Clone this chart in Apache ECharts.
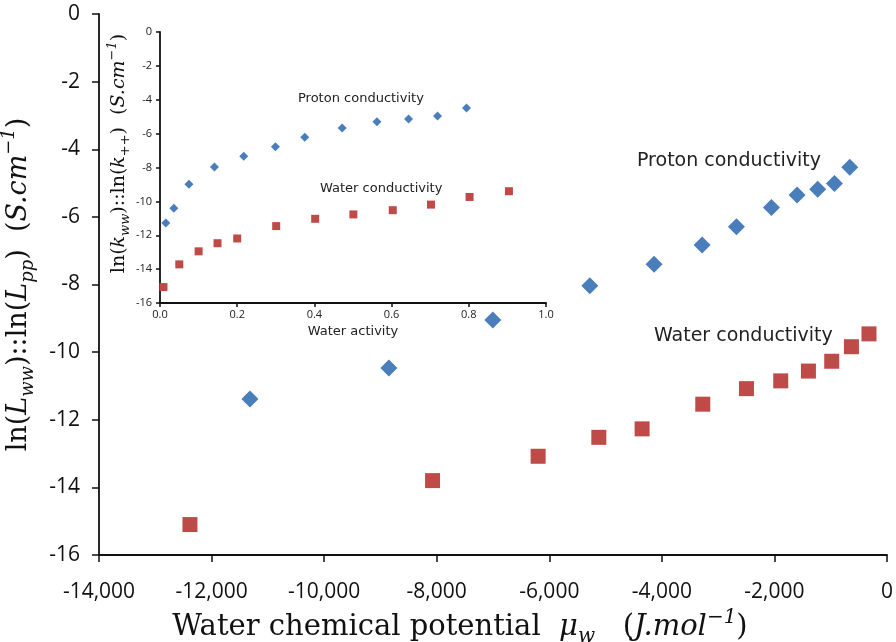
<!DOCTYPE html>
<html>
<head>
<meta charset="utf-8">
<script src="https://cdn.jsdelivr.net/npm/echarts@6/dist/echarts.min.js"></script>
<style>
  html, body { margin: 0; padding: 0; background: #fff; }
  #main { width: 896px; height: 642px; }
</style>
</head>
<body>
<div id="main"></div>
<script>
// main chart: water chemical potential (J/mol) vs ln conductivity
const protonMu = [-11318, -8850, -7003, -5280, -4138, -3285, -2675, -2053, -1598, -1231, -934, -662];
const protonLn = [-11.39, -10.47, -9.05, -8.04, -7.40, -6.83, -6.29, -5.72, -5.35, -5.18, -5.01, -4.53];
const waterMu = [-12384, -8074, -6198, -5120, -4351, -3273, -2497, -1888, -1396, -982, -632, -320];
const waterLn = [-15.10, -13.80, -13.08, -12.52, -12.27, -11.54, -11.08, -10.85, -10.56, -10.27, -9.84, -9.46];

// inset: water activity vs ln conductivity
const protonAct = [0.015, 0.036, 0.075, 0.141, 0.217, 0.299, 0.375, 0.472, 0.562, 0.644, 0.719, 0.794];
const protonLnK = [-11.28, -10.40, -8.99, -7.97, -7.34, -6.77, -6.22, -5.67, -5.30, -5.14, -4.96, -4.49];
const waterAct = [0.009, 0.05, 0.10, 0.149, 0.20, 0.301, 0.402, 0.501, 0.603, 0.702, 0.802, 0.904];
const waterLnK = [-15.06, -13.72, -12.95, -12.47, -12.19, -11.46, -11.03, -10.77, -10.52, -10.19, -9.74, -9.40];

const BLUE = '#4a7ebb';
const RED = '#be4b48';
const SANS = '"DejaVu Sans", sans-serif';
const TICKS = '"Open Sans", sans-serif';
const SERIF = '"DejaVu Serif", serif';

function pairs(xs, ys) {
    return xs.map((x, i) => [x, ys[i]]);
}

function mathRich(size) {
    const small = Math.round(size * 0.68);
    return {
        r: { fontFamily: SERIF, fontSize: size, lineHeight: size * 1.35, color: '#111' },
        i: { fontFamily: SERIF, fontSize: size, fontStyle: 'italic', lineHeight: size * 1.35, color: '#111' },
        sub: { fontFamily: SERIF, fontSize: small, fontStyle: 'italic', lineHeight: small, verticalAlign: 'bottom', color: '#111' },
        sup: { fontFamily: SERIF, fontSize: small, fontStyle: 'italic', lineHeight: small, verticalAlign: 'top', color: '#111' }
    };
}

const axisLine = { onZero: false, lineStyle: { color: '#111', width: 1.8 } };

const chart = echarts.init(document.getElementById('main'));
chart.setOption({
    animation: false,
    backgroundColor: '#fff',
    grid: [
        { left: 99, right: 9, top: 14, bottom: 87, containLabel: false, outerBoundsMode: 'none' },
        { left: 160, right: 350, top: 32, bottom: 339, containLabel: false, outerBoundsMode: 'none' }
    ],
    xAxis: [
        {
            gridIndex: 0, type: 'value', min: -14000, max: 0, interval: 2000,
            axisLine: axisLine,
            axisTick: { length: 7, lineStyle: { color: '#111', width: 1.5 } },
            splitLine: { show: false },
            axisLabel: {
                margin: 27, fontSize: 21, fontFamily: TICKS, color: '#111',
                formatter: v => v.toLocaleString('en-US')
            },
            name: '{r|Water chemical potential  }{i|μ}{sub|w}{r|   (}{i|J.mol}{sup|−1}{r|)}',
            nameLocation: 'middle', nameGap: 51,
            nameTextStyle: { rich: mathRich(29), padding: [0, 66, 0, 0] }
        },
        {
            gridIndex: 1, type: 'value', min: 0, max: 1, interval: 0.2,
            axisLine: axisLine,
            axisTick: { length: 4, lineStyle: { color: '#111', width: 1.5 } },
            splitLine: { show: false },
            axisLabel: {
                margin: 6, fontSize: 11, fontFamily: TICKS, color: '#222',
                formatter: v => v.toFixed(1)
            },
            name: 'Water activity',
            nameLocation: 'middle', nameGap: 22,
            nameTextStyle: { fontFamily: SANS, fontSize: 13, color: '#222' }
        }
    ],
    yAxis: [
        {
            gridIndex: 0, type: 'value', min: -16, max: 0, interval: 2,
            axisLine: axisLine,
            axisTick: { length: 7, lineStyle: { color: '#111', width: 1.5 } },
            splitLine: { show: false },
            axisLabel: { margin: 19, fontSize: 21, fontFamily: TICKS, color: '#111' },
            name: '{r|ln(}{i|L}{sub|ww}{r|)::ln(}{i|L}{sub|pp}{r|)  (}{i|S.cm}{sup|−1}{r|)}',
            nameLocation: 'middle', nameGap: 62,
            nameTextStyle: { rich: mathRich(27) }
        },
        {
            gridIndex: 1, type: 'value', min: -16, max: 0, interval: 2,
            axisLine: axisLine,
            axisTick: { length: 4, lineStyle: { color: '#111', width: 1.5 } },
            splitLine: { show: false },
            axisLabel: { margin: 8, fontSize: 11, fontFamily: TICKS, color: '#222' },
            name: '{r|ln(}{i|k}{sub|ww}{r|)::ln(}{i|k}{sub|++}{r|)  (}{i|S.cm}{sup|−1}{r|)}',
            nameLocation: 'middle', nameGap: 27,
            nameTextStyle: { rich: mathRich(19), padding: [0, 0, 0, 28] }
        }
    ],
    series: [
        {
            name: 'Proton conductivity', type: 'scatter', xAxisIndex: 0, yAxisIndex: 0,
            symbol: 'diamond', symbolSize: 17, itemStyle: { color: BLUE, opacity: 1 },
            data: pairs(protonMu, protonLn)
        },
        {
            name: 'Water conductivity', type: 'scatter', xAxisIndex: 0, yAxisIndex: 0,
            symbol: 'rect', symbolSize: 15, itemStyle: { color: RED, opacity: 1 },
            data: pairs(waterMu, waterLn)
        },
        {
            name: 'Proton conductivity (inset)', type: 'scatter', xAxisIndex: 1, yAxisIndex: 1,
            symbol: 'diamond', symbolSize: 9, itemStyle: { color: BLUE, opacity: 1 },
            data: pairs(protonAct, protonLnK)
        },
        {
            name: 'Water conductivity (inset)', type: 'scatter', xAxisIndex: 1, yAxisIndex: 1,
            symbol: 'rect', symbolSize: 8, itemStyle: { color: RED, opacity: 1 },
            data: pairs(waterAct, waterLnK)
        }
    ],
    graphic: [
        { type: 'text', left: 637, top: 152, style: { text: 'Proton conductivity', font: '19px ' + SANS, fill: '#222' } },
        { type: 'text', left: 654, top: 327, style: { text: 'Water conductivity', font: '19px ' + SANS, fill: '#222' } },
        { type: 'text', left: 298, top: 92, style: { text: 'Proton conductivity', font: '13px ' + SANS, fill: '#222' } },
        { type: 'text', left: 320, top: 182, style: { text: 'Water conductivity', font: '13px ' + SANS, fill: '#222' } }
    ]
});
</script>
</body>
</html>
